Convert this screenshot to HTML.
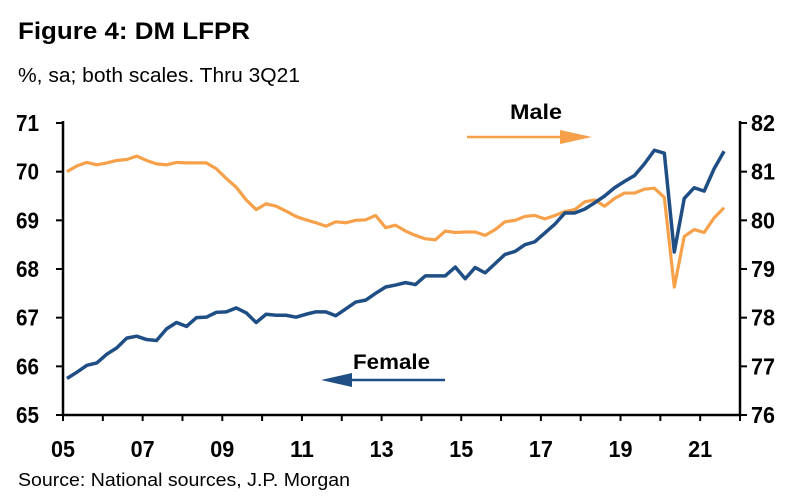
<!DOCTYPE html>
<html><head><meta charset="utf-8"><style>
body{margin:0;background:#fff;}
svg{display:block;font-family:"Liberation Sans",Arial,sans-serif;}
</style></head><body>
<svg id="c" width="809" height="501" viewBox="0 0 809 501">
<text x="18" y="39" font-size="24" font-weight="bold" textLength="232" lengthAdjust="spacingAndGlyphs">Figure 4: DM LFPR</text>
<text x="18" y="82" font-size="20" textLength="282" lengthAdjust="spacingAndGlyphs">%, sa; both scales. Thru 3Q21</text>
<text x="18" y="486" font-size="18" textLength="332" lengthAdjust="spacingAndGlyphs">Source: National sources,  J.P. Morgan</text>
<g id="axes"></g>
<g id="series"></g>
<text x="510" y="119" font-size="21" font-weight="bold" textLength="52" lengthAdjust="spacingAndGlyphs">Male</text>
<g>
<line x1="467" y1="137" x2="565" y2="137" stroke="#f7a04a" stroke-width="2.5"/>
<polygon points="560,130 592,137 560,144" fill="#f7a04a"/>
</g>
<text x="353" y="369" font-size="21" font-weight="bold" textLength="77" lengthAdjust="spacingAndGlyphs">Female</text>
<g>
<line x1="345" y1="380" x2="445" y2="380" stroke="#1f4e85" stroke-width="2.5"/>
<polygon points="352,373 321,380 352,387" fill="#1f4e85"/>
</g>
</svg>
<script>
const xTickLabels=["05","07","09","11","13","15","17","19","21"];
const leftTicks=[65,66,67,68,69,70,71];
const rightTicks=[76,77,78,79,80,81,82];
const female=[65.75,65.88,66.02,66.07,66.25,66.38,66.58,66.62,66.55,66.53,66.77,66.9,66.82,67.0,67.01,67.11,67.12,67.2,67.1,66.9,67.07,67.05,67.05,67.01,67.07,67.12,67.12,67.04,67.18,67.32,67.36,67.5,67.63,67.67,67.72,67.68,67.86,67.86,67.86,68.04,67.8,68.03,67.92,68.11,68.3,68.36,68.5,68.56,68.74,68.92,69.15,69.15,69.23,69.36,69.5,69.67,69.8,69.92,70.16,70.44,70.38,68.35,69.45,69.67,69.6,70.06,70.42];
const male=[81.0,81.12,81.19,81.14,81.18,81.23,81.25,81.32,81.23,81.16,81.14,81.19,81.18,81.18,81.18,81.06,80.86,80.68,80.42,80.22,80.34,80.29,80.19,80.08,80.01,79.95,79.88,79.97,79.95,80.0,80.01,80.1,79.85,79.9,79.78,79.69,79.62,79.6,79.78,79.75,79.76,79.76,79.69,79.81,79.97,80.0,80.08,80.1,80.03,80.1,80.18,80.22,80.38,80.42,80.29,80.45,80.56,80.56,80.64,80.66,80.47,78.63,79.67,79.81,79.75,80.05,80.26];
const NS="http://www.w3.org/2000/svg";
const X0=63,X1=740,Y0=415,Y1=123;
const xYear=t=>X0+(t-2005)*(X1-X0)/17;
const yL=v=>Y0-(v-65)*(Y0-Y1)/6;
const yR=v=>Y0-(v-76)*(Y0-Y1)/6;
function mk(tag,attrs,parent){const e=document.createElementNS(NS,tag);for(const k in attrs)e.setAttribute(k,attrs[k]);parent.appendChild(e);return e;}
const ax=document.getElementById('axes');
let e=mk('line',{x1:X0,y1:Y1-2,x2:X0,y2:Y0,stroke:'#000','stroke-width':2.5},ax);


e=mk('line',{x1:X1,y1:Y1-2,x2:X1,y2:Y0,stroke:'#000','stroke-width':2.5},ax);


e=mk('line',{x1:X0,y1:Y0,x2:X1,y2:Y0,stroke:'#000','stroke-width':2.5},ax);


for(let y=2005;y<=2022;y++){mk('line',{x1:xYear(y),y1:Y0,x2:xYear(y),y2:Y0+6,stroke:'#000','stroke-width':2},ax);}
xTickLabels.forEach((l,i)=>{const t=mk('text',{x:xYear(2005+2*i),y:457,'font-size':23,'font-weight':'bold','text-anchor':'middle',textLength:24,lengthAdjust:'spacingAndGlyphs'},ax);t.textContent=l;

});
leftTicks.forEach(v=>{mk('line',{x1:X0-7,y1:yL(v),x2:X0,y2:yL(v),stroke:'#000','stroke-width':2},ax);
const t=mk('text',{x:16,y:yL(v)+8,'font-size':23,'font-weight':'bold',textLength:23,lengthAdjust:'spacingAndGlyphs'},ax);t.textContent=v;

});
rightTicks.forEach(v=>{mk('line',{x1:X1,y1:yR(v),x2:X1+7,y2:yR(v),stroke:'#000','stroke-width':2},ax);
const t=mk('text',{x:X1+11,y:yR(v)+8,'font-size':23,'font-weight':'bold',textLength:24,lengthAdjust:'spacingAndGlyphs'},ax);t.textContent=v;

});
const sg=document.getElementById('series');
const xq=i=>xYear(2005.1+i*0.25);
let p=mk('polyline',{points:male.map((v,i)=>xq(i)+','+yR(v)).join(' '),fill:'none',stroke:'#f7a04a','stroke-width':3.2,'stroke-linejoin':'round'},sg);


p=mk('polyline',{points:female.map((v,i)=>xq(i)+','+yL(v)).join(' '),fill:'none',stroke:'#1f4e85','stroke-width':3.5,'stroke-linejoin':'round'},sg);


</script>
</body></html>
